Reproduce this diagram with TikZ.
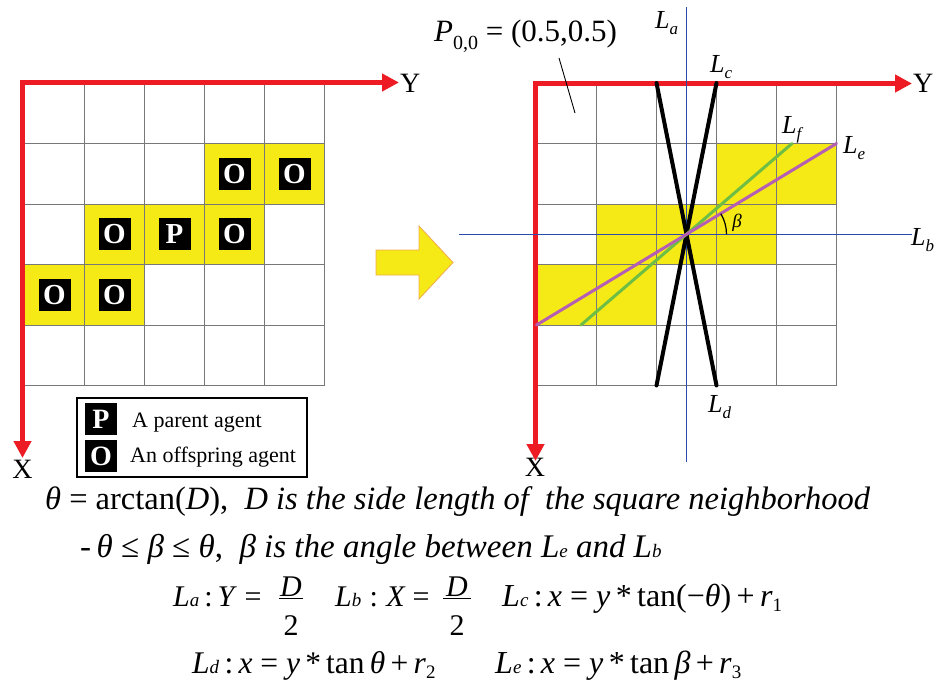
\documentclass[tikz,border=0pt]{standalone}
\usepackage{fontspec}
\setmainfont{Liberation Serif}
\usetikzlibrary{arrows.meta}
\definecolor{axisred}{RGB}{237,28,36}
\definecolor{cellyellow}{RGB}{245,233,22}
\definecolor{gridgray}{RGB}{120,120,120}
\definecolor{lineblue}{RGB}{45,75,175}
\definecolor{linemag}{RGB}{180,95,180}
\definecolor{linegreen}{RGB}{110,190,70}
\definecolor{arroworange}{RGB}{240,170,80}
\newcommand\fsz[1]{\fontsize{#1}{#1}\selectfont}
\tikzset{
  gridline/.style={draw=gridgray, line width=1pt},
  yellowcell/.style={fill=cellyellow},
  redaxis/.style={draw=axisred, line width=4.5pt, line join=miter, {Triangle[length=17pt,width=17pt]}-{Triangle[length=17pt,width=17pt]}},
  agent/.style={fill=black, text=white, minimum size=32pt, inner sep=0pt, font=\fsz{29}\bfseries},
  legagent/.style={fill=black, text=white, minimum size=32pt, inner sep=0pt, font=\fsz{28}\bfseries},
  axislabel/.style={font=\fsz{28}, inner sep=0pt, anchor=base west},
  llabel/.style={font=\fsz{26}\itshape, inner sep=0pt, anchor=base west},
  eqtext/.style={font=\fsz{30}, inner sep=0pt, anchor=base west},
  legtext/.style={font=\fsz{22}, inner sep=0pt, anchor=base west},
  blackline/.style={draw=black, line width=4pt, line cap=round},
  blueline/.style={draw=lineblue, line width=1.5pt},
  magline/.style={draw=linemag, line width=3pt, line cap=round},
  greenline/.style={draw=linegreen, line width=3pt, line cap=round},
  fracbar/.style={draw=black, line width=1.2pt},
}
\newcommand\lsub[1]{\raisebox{-6pt}{\fsz{17}#1}}
\newcommand\esub[1]{{\fsz{19}#1}}
\begin{document}
\begin{tikzpicture}[x=1pt,y=-1pt]
\useasboundingbox[fill=white] (0,0) rectangle (936,690);

% ---------- left grid ----------
\foreach \c/\r in {3/1,4/1,1/2,2/2,3/2,0/3,1/3}
  \fill[yellowcell] ({24.5+60*\c},{83+60.5*\r}) rectangle ++(60,60.5);
\foreach \i in {0,...,5} {
  \draw[gridline] ({24.5+60*\i},83) -- ({24.5+60*\i},385.5);
  \draw[gridline] (24.5,{83+60.5*\i}) -- (324.5,{83+60.5*\i});
}
\coordinate (lcorner) at (22.5,82.5);
\coordinate (ltipY) at (399,82.5);
\coordinate (ltipX) at (22.5,458);
\draw[redaxis] (ltipX) -- (lcorner) -- (ltipY);
\node[axislabel] (lY) at (400,93) {Y};
\node[font=\fsz{28}, inner sep=0pt, anchor=base] (lX) at (22.5,478) {X};

\node[agent] (o1) at ({24.5+60*3.5},{83+60.5*1.5}) {O};
\node[agent] (o2) at ({24.5+60*4.5},{83+60.5*1.5}) {O};
\node[agent] (o3) at ({24.5+60*1.5},{83+60.5*2.5}) {O};
\node[agent] (p1) at ({24.5+60*2.5},{83+60.5*2.5}) {P};
\node[agent] (o4) at ({24.5+60*3.5},{83+60.5*2.5}) {O};
\node[agent] (o5) at ({24.5+60*0.5},{83+60.5*3.5}) {O};
\node[agent] (o6) at ({24.5+60*1.5},{83+60.5*3.5}) {O};

% legend
\draw[black, line width=1.3pt, fill=white] (77,398) rectangle (307,477);
\node[legagent] (legP) at (101,419) {P};
\node[legagent] (legO) at (101,456) {O};
\node[legtext] (legPt) at (132,427) {A parent agent};
\node[legtext] (legOt) at (130,462) {An offspring agent};

% ---------- big arrow ----------
\draw[fill=cellyellow, draw=arroworange, line width=0.8pt]
  (376,250) -- (419,250) -- (419,226) -- (453,262.5) -- (419,299) -- (419,275) -- (376,275) -- cycle;

% ---------- right grid ----------
\foreach \c/\r in {3/1,4/1,1/2,2/2,3/2,0/3,1/3}
  \fill[yellowcell] ({536.5+60*\c},{83+60.5*\r}) rectangle ++(60,60.5);
\foreach \i in {0,...,5} {
  \draw[gridline] ({536.5+60*\i},83) -- ({536.5+60*\i},385.5);
  \draw[gridline] (536.5,{83+60.5*\i}) -- (836.5,{83+60.5*\i});
}
\coordinate (rcorner) at (535.5,83.5);
\coordinate (rtipY) at (912,83.5);
\coordinate (rtipX) at (535.5,461);
\draw[redaxis] (rtipX) -- (rcorner) -- (rtipY);
\node[axislabel] (rY) at (913,93) {Y};
\node[font=\fsz{28}, inner sep=0pt, anchor=base] (rX) at (535,476) {X};

% blue axes La, Lb
\coordinate (latop) at (686.5,7);
\coordinate (labot) at (686.5,462);
\coordinate (lbleft) at (459,234.25);
\coordinate (lbright) at (912,234.25);
\draw[blueline] (latop) -- (labot);
\draw[blueline] (lbleft) -- (lbright);

% black lines Lc, Ld
\coordinate (lctop) at (716.5,83);
\coordinate (lcbot) at (656.5,385.5);
\coordinate (ldtop) at (656.5,83);
\coordinate (ldbot) at (716.5,385.5);
\draw[blackline] (lctop) -- (lcbot);
\draw[blackline] (ldtop) -- (ldbot);

% Le, Lf
\coordinate (leA) at (536.5,325);
\coordinate (leB) at (836.5,143.5);
\coordinate (lfA) at (581,325);
\coordinate (lfB) at (792,143.5);
\draw[greenline] (lfA) -- (lfB);
\draw[magline] (leA) -- (leB);

% beta arc
\draw[black, line width=1.2pt] (726.5,234.25) arc[start angle=0, end angle=-31, radius=40];
\node[font=\fsz{19}\itshape, inner sep=0pt] (beta) at (737,223) {β};

% line labels
\node[llabel] (La) at (655,29) {L\lsub{a}};
\node[llabel] (Lc) at (710,73) {L\lsub{c}};
\node[llabel] (Lf) at (782,133) {L\lsub{f}};
\node[llabel] (Le) at (843,153) {L\lsub{e}};
\node[llabel] (Lb) at (911,245) {L\lsub{b}};
\node[llabel] (Ld) at (708,412) {L\lsub{d}};

% P00 label with leader
\node[font=\fsz{31}, inner sep=0pt, anchor=base west] (P00) at (434,42)
  {\textit{P}\raisebox{-8pt}{\fsz{20}0,0} = (0.5,0.5)};
\coordinate (leadA) at (559,58);
\coordinate (leadB) at (575,113);
\draw[black, line width=0.9pt] (leadA) -- (leadB);

% ---------- equations ----------
\node[eqtext, font=\fsz{32.5}] (eq1) at (45,509)
  {\textit{θ} = arctan(\textit{D}),\ \ \textit{D is the side length of\ \ the square neighborhood}};
\node[eqtext, font=\fsz{33}] (eq2) at (80,557)
  {-\,\textit{θ} ≤ \textit{β} ≤ \textit{θ},\ \ \textit{β is the angle between L\esub{e} and L\esub{b}}};

\node[eqtext] (eq3a) at (173,606) {\textit{L\esub{a}}\,:\,\textit{Y} =};
\node[font=\fsz{30}\itshape, inner sep=0pt, anchor=base] (f1n) at (291,596) {D};
\node[font=\fsz{30}, inner sep=0pt, anchor=base] (f1d) at (291,635) {2};
\coordinate (f1l) at (279,598.5);
\coordinate (f1r) at (303,598.5);
\draw[fracbar] (f1l) -- (f1r);

\node[eqtext] (eq3b) at (335,606) {\textit{L\esub{b}}\;:\;\textit{X}\hspace{7pt}=};
\node[font=\fsz{30}\itshape, inner sep=0pt, anchor=base] (f2n) at (457,596) {D};
\node[font=\fsz{30}, inner sep=0pt, anchor=base] (f2d) at (457,635) {2};
\coordinate (f2l) at (443,598.5);
\coordinate (f2r) at (471,598.5);
\draw[fracbar] (f2l) -- (f2r);

\node[eqtext, font=\fsz{32}] (eq3c) at (502,606)
  {\textit{L\esub{c}}\,:\,\textit{x} = \textit{y}\,*\,tan(−\textit{θ})\,+\,\textit{r}\raisebox{-5pt}{\fsz{19}1}};

\node[eqtext, font=\fsz{31.5}] (eq4a) at (192,673)
  {\textit{L\esub{d}}\,:\,\textit{x} = \textit{y}\,*\,tan\,\textit{θ}\,+\,\textit{r}\raisebox{-5pt}{\fsz{19}2}};
\node[eqtext, font=\fsz{32}] (eq4b) at (495,673)
  {\textit{L\esub{e}}\,:\,\textit{x} = \textit{y}\,*\,tan\,\textit{β}\,+\,\textit{r}\raisebox{-5pt}{\fsz{19}3}};
\end{tikzpicture}
\end{document}
